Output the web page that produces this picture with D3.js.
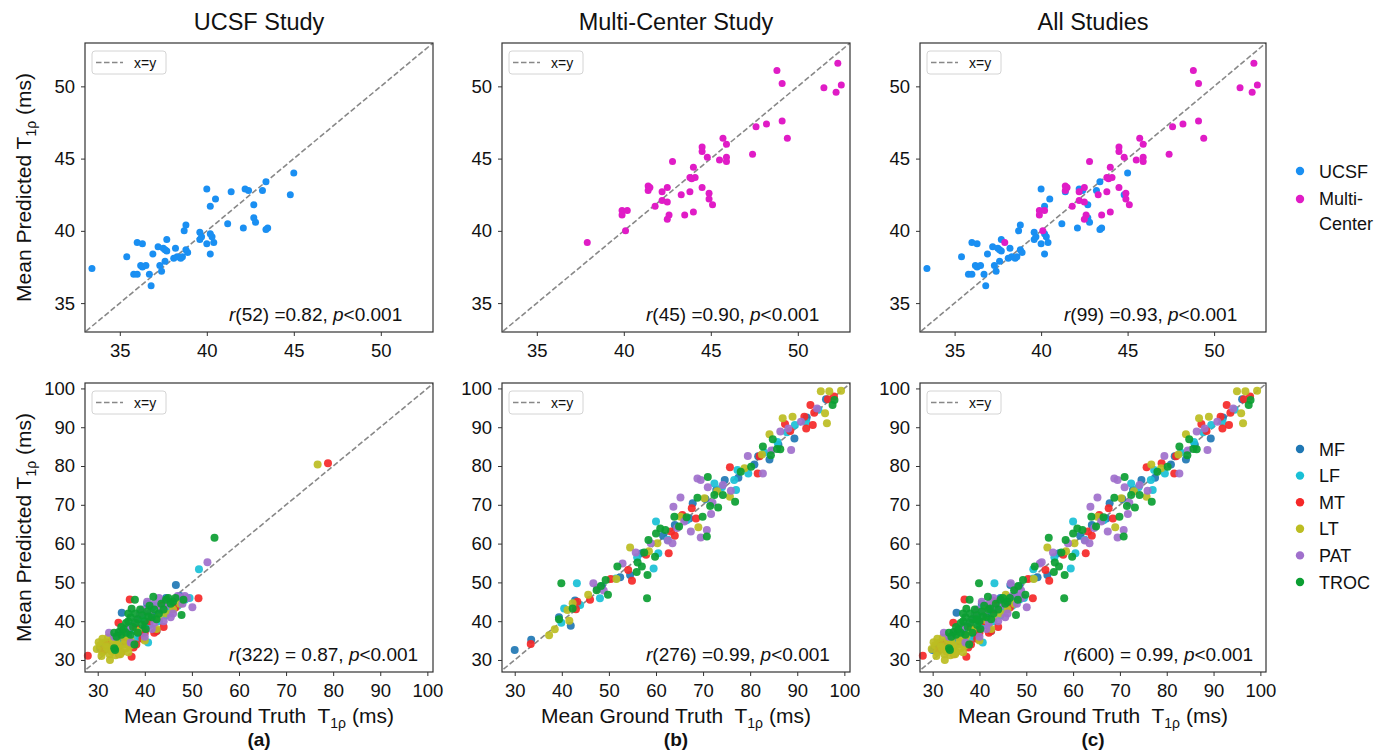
<!DOCTYPE html>
<html>
<head>
<meta charset="utf-8">
<script src="https://cdn.jsdelivr.net/npm/d3@7"></script>
<style>
  body { margin: 0; background: #fff; }
  text { font-family: "Liberation Sans", Arial, Helvetica, sans-serif; fill: #111; }
</style>
</head>
<body>
<script>
// column titles and stats text
var titles = ['UCSF Study', 'Multi-Center Study', 'All Studies'];
var topStats = [['52', '0.82'], ['45', '0.90'], ['99', '0.93']];
var bottomStats = [['322', ' 0.87'], ['276', '0.99'], ['600', ' 0.99']];
var panelTags = ['(a)', '(b)', '(c)'];

var topTicks = [35, 40, 45, 50];
var bottomTicks = [30, 40, 50, 60, 70, 80, 90, 100];

// top row: mean ground truth vs mean predicted, per study
var ucsfPoints = [
  [33.4, 37.4], [35.4, 38.2], [36.0, 39.2], [36.3, 39.1], [35.8, 37.0], [36.0, 37.0], [36.2, 37.6],
  [36.3, 37.5], [36.5, 37.6], [36.7, 37.0], [36.8, 36.2], [36.9, 38.4], [37.2, 38.9], [37.3, 37.6],
  [37.4, 37.2], [37.5, 38.8], [37.6, 38.7], [37.7, 39.4], [37.7, 38.6], [37.6, 37.9], [38.2, 38.8],
  [38.1, 38.1], [38.3, 38.2], [38.5, 38.1], [38.6, 38.2], [38.7, 40.0], [38.8, 40.4], [38.8, 38.7],
  [38.9, 38.5], [39.6, 39.9], [39.6, 39.4], [40.0, 42.9], [40.0, 39.1], [40.2, 41.7], [40.2, 39.8],
  [40.3, 39.6], [40.2, 38.4], [40.4, 39.2], [40.5, 42.2], [41.2, 40.5], [41.4, 42.7], [42.1, 40.2],
  [42.2, 42.9], [42.4, 42.8], [42.7, 41.8], [42.7, 40.9], [42.8, 40.6], [43.2, 42.8], [43.4, 43.4],
  [43.4, 40.1], [43.5, 40.2], [44.8, 42.5], [45.0, 44.0], [39.7, 39.6]
];
var multiPoints = [
  [37.9, 39.2], [39.9, 41.4], [39.9, 41.1], [40.2, 41.4], [40.1, 40.0], [41.4, 43.1], [41.4, 42.8],
  [41.5, 43.0], [41.8, 41.7], [42.2, 42.7], [42.2, 42.1], [42.5, 43.0], [42.5, 42.0], [42.6, 41.1],
  [42.5, 40.8], [42.8, 44.8], [43.3, 42.5], [43.5, 41.1], [43.8, 42.7], [43.8, 43.7], [44.0, 41.3],
  [44.0, 44.4], [44.1, 43.7], [44.5, 43.0], [44.5, 45.8], [44.5, 45.5], [44.8, 45.1], [44.9, 42.6],
  [44.9, 42.2], [45.1, 41.8], [45.5, 44.9], [45.7, 46.4], [45.9, 46.0], [45.9, 45.1], [45.9, 44.8],
  [47.4, 45.3], [47.6, 47.2], [48.2, 47.4], [48.8, 51.1], [49.1, 50.2], [49.1, 47.6], [49.4, 46.4],
  [51.5, 49.9], [52.2, 49.6], [52.3, 51.6], [52.5, 50.1], [43.9, 43.6]
];

// bottom row: per knee region, UCSF study
var ucsfMF = [
  [46.6, 49.3], [35.1, 42.2], [40.5, 44.5], [44.0, 45.0], [38.5, 40.5], [42.0, 41.5], [36.5, 37.0],
  [39.0, 36.0], [33.5, 34.0], [41.5, 43.5], [37.5, 39.0], [43.5, 42.5], [45.0, 44.0], [34.5, 35.5],
  [40.0, 38.5], [30.5, 33.0], [47.5, 46.5], [36.0, 35.0], [39.5, 37.5], [44.5, 46.0]
];
var ucsfLF = [
  [51.5, 53.4], [40.7, 34.5], [42.5, 37.5], [46.0, 44.5], [44.5, 41.5], [48.5, 45.5], [38.0, 37.5],
  [36.5, 36.0], [43.0, 40.0], [49.5, 46.0], [41.0, 39.0], [35.0, 34.0], [39.5, 41.0], [45.5, 43.0],
  [32.5, 33.5], [47.0, 44.0], [38.5, 35.5], [42.0, 44.0]
];
var ucsfMT = [
  [78.9, 80.7], [27.9, 31.1], [51.4, 45.9], [36.8, 45.6], [34.4, 39.6], [37.2, 30.8], [37.6, 33.2],
  [38.2, 34.0], [35.0, 32.0], [42.5, 37.5], [44.0, 38.5], [39.5, 35.5], [33.5, 33.0], [31.0, 32.5],
  [36.0, 34.5], [41.0, 40.0], [43.5, 44.0], [46.5, 43.5], [40.0, 37.0], [38.0, 38.5], [32.0, 34.5],
  [34.5, 31.5], [42.0, 37.0]
];
var ucsfLT = [
  [76.7, 80.4], [32.6, 30.0], [29.8, 32.8], [30.5, 33.8], [31.0, 32.0], [31.5, 34.5], [32.0, 33.0],
  [32.5, 31.5], [33.0, 34.0], [33.5, 32.5], [34.0, 35.0], [34.5, 33.0], [35.0, 32.0], [35.5, 34.0],
  [36.0, 33.0], [31.0, 35.5], [32.2, 35.8], [33.8, 31.2], [34.8, 31.5], [30.8, 31.0], [36.5, 32.0],
  [40.0, 35.0], [42.5, 38.0], [44.5, 42.0], [46.0, 43.0], [47.5, 44.5], [38.5, 37.5], [35.2, 36.5],
  [37.0, 35.0], [43.0, 41.0], [31.8, 33.4], [33.2, 35.4], [34.2, 33.8], [35.8, 35.2], [33.0, 32.2],
  [36.8, 33.6], [30.2, 34.6]
];
var ucsfPAT = [
  [53.3, 55.2], [50.1, 43.6], [32.4, 37.0], [49.0, 46.0], [47.0, 46.5], [45.0, 45.0], [43.0, 46.0],
  [42.0, 44.5], [40.5, 45.0], [39.5, 43.0], [41.0, 42.0], [43.5, 43.5], [46.0, 42.0], [48.0, 44.5],
  [44.0, 40.0], [38.0, 40.0], [36.5, 38.5], [34.5, 37.0], [33.5, 36.0], [40.0, 36.0], [42.0, 39.5],
  [45.5, 41.0], [48.5, 46.5], [37.0, 34.5], [41.5, 38.0], [44.5, 44.0], [39.0, 42.0]
];
var ucsfTROC = [
  [54.8, 61.5], [37.9, 45.5], [41.8, 46.3], [47.8, 41.6], [48.2, 45.5], [33.7, 32.6], [33.5, 37.0],
  [34.5, 37.2], [35.0, 36.5], [35.5, 38.0], [36.0, 39.5], [36.5, 40.0], [37.0, 41.0], [37.5, 38.5],
  [38.0, 42.0], [38.5, 40.5], [39.0, 43.0], [39.5, 41.5], [40.0, 40.0], [40.5, 42.5], [41.0, 44.0],
  [41.5, 41.0], [42.0, 43.0], [42.5, 40.5], [43.0, 42.0], [43.5, 44.5], [44.0, 43.0], [44.5, 45.5],
  [45.0, 46.0], [45.5, 44.5], [46.0, 45.0], [34.0, 36.0], [35.0, 38.5], [36.0, 37.0], [37.0, 36.5],
  [38.5, 37.0], [39.5, 39.0], [36.5, 42.0], [37.8, 34.0], [46.5, 46.0], [40.2, 38.0], [33.5, 33.0],
  [38.0, 39.5], [40.8, 41.2], [37.2, 43.2]
];

// bottom row: per knee region, multi-center study
var multiMF = [
  [30.0, 32.6], [33.5, 35.2], [39.4, 41.0], [41.9, 38.8], [42.8, 45.3], [52.4, 51.3], [54.5, 51.9],
  [64.0, 64.8], [67.8, 70.4], [67.1, 66.5], [72.8, 73.8], [74.6, 76.4], [80.9, 80.4], [81.7, 82.5],
  [84.1, 81.7], [89.4, 87.1], [96.1, 97.2], [61.5, 62.0], [70.5, 71.5], [77.5, 77.0], [86.0, 85.5],
  [92.0, 92.5], [57.0, 57.5], [48.5, 49.0]
];
var multiLF = [
  [39.9, 39.6], [40.5, 43.3], [43.2, 49.8], [43.9, 44.2], [48.1, 45.9], [59.5, 53.6], [60.0, 65.7],
  [60.5, 57.5], [72.4, 75.5], [76.6, 76.4], [77.0, 73.8], [77.3, 79.0], [79.6, 78.1], [85.8, 86.2],
  [87.8, 88.7], [89.5, 90.6], [91.9, 91.4], [62.5, 61.0], [66.5, 66.0], [74.0, 74.5], [83.0, 83.5],
  [94.5, 94.5], [56.0, 56.5], [51.5, 51.0]
];
var multiMT = [
  [33.4, 34.1], [43.0, 43.1], [43.3, 45.0], [46.0, 45.5], [50.4, 50.9], [54.1, 53.2], [54.9, 50.4],
  [57.9, 57.1], [62.7, 57.5], [63.2, 63.1], [65.6, 67.4], [67.6, 69.1], [68.5, 66.5], [75.7, 79.7],
  [81.6, 78.1], [87.4, 90.8], [91.5, 92.7], [91.9, 89.7], [93.3, 90.6], [92.8, 95.7], [93.6, 93.7],
  [96.5, 97.2], [97.8, 97.9], [64.0, 62.0], [82.0, 82.5], [88.5, 89.0]
];
var multiLT = [
  [37.3, 36.4], [38.5, 37.9], [41.2, 42.9], [41.6, 40.1], [42.3, 44.6], [45.6, 46.8], [51.6, 50.9],
  [54.5, 59.0], [60.3, 60.1], [65.2, 66.9], [69.0, 64.2], [70.3, 71.7], [75.7, 72.1], [78.8, 79.4],
  [84.1, 88.2], [86.9, 92.3], [89.0, 92.7], [95.0, 99.3], [96.8, 99.3], [95.9, 93.6], [96.3, 91.0],
  [99.3, 99.4], [73.0, 73.5], [82.5, 83.0], [58.5, 58.0]
];
var multiPAT = [
  [46.7, 49.8], [48.9, 47.9], [52.9, 54.9], [55.7, 57.7], [58.9, 60.1], [62.5, 60.8], [63.5, 60.1],
  [63.7, 69.5], [65.2, 71.9], [66.0, 65.7], [67.4, 63.1], [69.5, 61.6], [70.8, 63.5], [68.8, 76.8],
  [69.5, 76.4], [71.7, 67.6], [71.0, 74.5], [74.2, 75.1], [75.9, 73.6], [79.5, 82.6], [82.7, 78.1],
  [86.4, 88.9], [88.1, 89.7], [88.7, 84.1], [90.8, 91.4], [94.2, 94.8], [64.5, 64.0], [72.0, 70.5],
  [84.5, 84.0], [47.5, 48.5]
];
var multiTROC = [
  [39.4, 40.5], [39.9, 49.8], [42.3, 43.3], [47.4, 48.0], [48.3, 49.1], [49.3, 50.6], [49.8, 46.8],
  [51.8, 54.1], [55.9, 52.7], [56.1, 55.1], [57.0, 54.1], [57.5, 57.7], [58.2, 51.9], [58.1, 45.9],
  [58.4, 60.9], [60.0, 62.6], [59.8, 56.6], [60.9, 63.9], [63.9, 66.9], [64.9, 64.4], [68.8, 71.8],
  [70.8, 61.8], [69.9, 66.9], [71.0, 77.2], [71.5, 69.7], [73.2, 69.3], [72.4, 72.5], [74.2, 72.5],
  [76.8, 70.8], [80.2, 79.8], [82.7, 85.0], [84.4, 82.8], [84.8, 86.9], [85.7, 84.4], [86.4, 84.3],
  [97.5, 95.7], [97.9, 97.0], [62.0, 63.5], [66.5, 66.8], [78.0, 78.5]
];

var studyNames = ['UCSF', 'Multi-Center'];
var studyColors = ['#1a8ff2', '#e01cc6'];
var regionNames = ['MF', 'LF', 'MT', 'LT', 'PAT', 'TROC'];
var regionColors = ['#1f77b4', '#19c0d6', '#f52828', '#bcbd22', '#a070cc', '#0b9e32'];

var ucsfRegions = [ucsfMF, ucsfLF, ucsfMT, ucsfLT, ucsfPAT, ucsfTROC];
var multiRegions = [multiMF, multiLF, multiMT, multiLT, multiPAT, multiTROC];

let svg = d3.select('body').append('svg')
    .attr('width', 1397)
    .attr('height', 756);

var colLeft = [85, 502, 920];
var colWidth = [348, 348, 346];
var rowTop = [43, 383];
var plotH = 289;

// builds one panel; groups = [{points, color}]
function drawPanel(col, row, groups, xDom, yDom, ticks, stats) {
    var left = colLeft[col], top = rowTop[row], w = colWidth[col];
    var x = d3.scaleLinear().domain(xDom).range([left, left + w]);
    var y = d3.scaleLinear().domain(yDom).range([top + plotH, top]);
    var g = svg.append('g');

    var clipId = 'clip' + row + col;
    g.append('clipPath').attr('id', clipId)
        .append('rect')
        .attr('x', left).attr('y', top).attr('width', w).attr('height', plotH);

    var lo = Math.max(xDom[0], yDom[0]) - 1, hi = Math.min(xDom[1], yDom[1]) + 1;
    g.append('line')
        .attr('clip-path', 'url(#' + clipId + ')')
        .attr('x1', x(lo)).attr('y1', y(lo))
        .attr('x2', x(hi)).attr('y2', y(hi))
        .attr('stroke', '#888')
        .attr('stroke-width', 1.6)
        .attr('stroke-dasharray', '5.5,2.5');

    var r = row == 0 ? 3.5 : 4;
    groups.forEach(function (grp) {
        g.append('g').selectAll('circle')
            .data(grp.points)
            .enter()
            .append('circle')
            .attr('cx', d => x(d[0]))
            .attr('cy', d => y(d[1]))
            .attr('r', r)
            .attr('fill', grp.color)
            .attr('fill-opacity', row == 0 ? 1 : 0.92);
    });

    // frame
    g.append('rect')
        .attr('x', left).attr('y', top).attr('width', w).attr('height', plotH)
        .attr('fill', 'none').attr('stroke', '#333').attr('stroke-width', 1.2);

    var xAxis = g.append('g')
        .attr('transform', 'translate(0,' + (top + plotH) + ')')
        .call(d3.axisBottom(x).tickValues(ticks).tickSize(4).tickPadding(8));
    var yAxis = g.append('g')
        .attr('transform', 'translate(' + left + ',0)')
        .call(d3.axisLeft(y).tickValues(ticks).tickSize(4).tickPadding(6));
    [xAxis, yAxis].forEach(function (a) {
        a.select('.domain').remove();
        a.selectAll('line').attr('stroke', '#333');
        a.selectAll('text')
            .style('font-family', '"Liberation Sans", Arial, sans-serif')
            .style('font-size', '18.5px')
            .attr('fill', '#222');
    });

    // x=y legend box
    g.append('rect')
        .attr('x', left + 7).attr('y', top + 8)
        .attr('width', 74).attr('height', 23)
        .attr('rx', 3)
        .attr('fill', '#fff').attr('stroke', '#d4d4d4');
    g.append('line')
        .attr('x1', left + 11).attr('x2', left + 38)
        .attr('y1', top + 19.5).attr('y2', top + 19.5)
        .attr('stroke', '#888').attr('stroke-width', 1.6)
        .attr('stroke-dasharray', '5.5,2.5');
    g.append('text')
        .attr('x', left + 49).attr('y', top + 24.5)
        .style('font-size', '14px')
        .attr('fill', '#222')
        .text('x=y');

    // stats annotation
    var ann = g.append('text')
        .attr('x', left + 144)
        .attr('y', top + plotH - 11)
        .style('font-size', '19px')
        .style('white-space', 'pre');
    ann.append('tspan').style('font-style', 'italic').text('r');
    ann.append('tspan').text('(' + stats[0] + ') =' + stats[1] + ', ');
    ann.append('tspan').style('font-style', 'italic').text('p');
    ann.append('tspan').text('<0.001');
}

// axis label with T1rho subscript
function labelT(sel, before, after) {
    sel.style('white-space', 'pre').style('font-size', '21px');
    sel.append('tspan').text(before + 'T');
    sel.append('tspan').attr('dy', 5).style('font-size', '14px').text('1ρ');
    sel.append('tspan').attr('dy', -5).text(after);
}

for (var c = 0; c < 3; c++) {
    var topGroups, bottomGroups;
    if (c == 0) {
        topGroups = [{points: ucsfPoints, color: studyColors[0]}];
        bottomGroups = ucsfRegions.map((p, i) => ({points: p, color: regionColors[i]}));
    } else if (c == 1) {
        topGroups = [{points: multiPoints, color: studyColors[1]}];
        bottomGroups = multiRegions.map((p, i) => ({points: p, color: regionColors[i]}));
    } else {
        topGroups = [{points: ucsfPoints, color: studyColors[0]}, {points: multiPoints, color: studyColors[1]}];
        bottomGroups = ucsfRegions.map((p, i) => ({points: p.concat(multiRegions[i]), color: regionColors[i]}));
    }
    drawPanel(c, 0, topGroups, [33, 53], [33, 53], topTicks, topStats[c]);
    drawPanel(c, 1, bottomGroups, [27.3, 101.2], [26.9, 101.4], bottomTicks, bottomStats[c]);

    var cx = colLeft[c] + colWidth[c] / 2;
    svg.append('text')
        .attr('x', cx).attr('y', 30)
        .attr('text-anchor', 'middle')
        .style('font-size', '23.5px')
        .text(titles[c]);

    var xl = svg.append('text')
        .attr('x', cx).attr('y', 723)
        .attr('text-anchor', 'middle');
    labelT(xl, 'Mean Ground Truth  ', ' (ms)');

    svg.append('text')
        .attr('x', cx).attr('y', 746)
        .attr('text-anchor', 'middle')
        .style('font-size', '19px')
        .style('font-weight', 'bold')
        .text(panelTags[c]);
}

// y labels on the left column
[0, 1].forEach(function (row) {
    var cy = rowTop[row] + plotH / 2;
    var yl = svg.append('text')
        .attr('transform', 'translate(31,' + cy + ') rotate(-90)')
        .attr('text-anchor', 'middle');
    labelT(yl, 'Mean Predicted ', ' (ms)');
});

// right legends
var legX = 1300;
studyNames.forEach(function (name, i) {
    var yy = i == 0 ? 171 : 199;
    svg.append('circle').attr('cx', legX).attr('cy', yy).attr('r', 4.2).attr('fill', studyColors[i]);
});
svg.append('text').attr('x', 1319).attr('y', 178).style('font-size', '18px').text('UCSF');
svg.append('text').attr('x', 1319).attr('y', 205).style('font-size', '18px').text('Multi-');
svg.append('text').attr('x', 1319).attr('y', 230).style('font-size', '18px').text('Center');

regionNames.forEach(function (name, i) {
    var yy = 449 + i * 26.6;
    svg.append('circle').attr('cx', legX).attr('cy', yy).attr('r', 4.2).attr('fill', regionColors[i]);
    svg.append('text').attr('x', 1319).attr('y', yy + 6.5).style('font-size', '18px').text(name);
});
</script>
</body>
</html>
